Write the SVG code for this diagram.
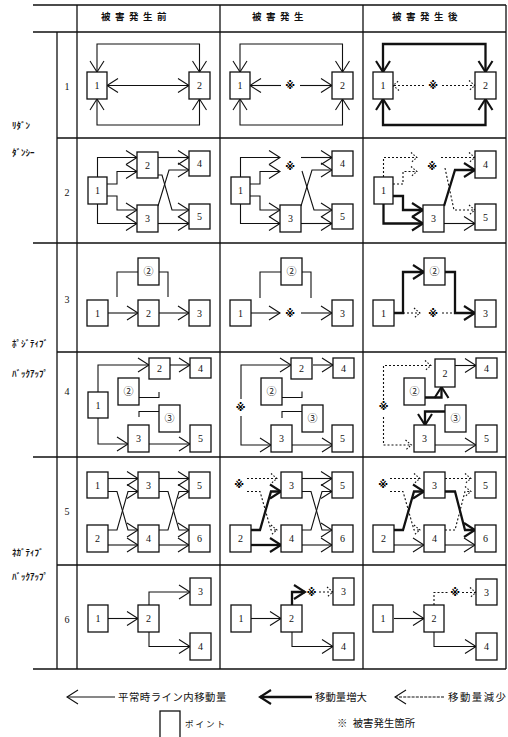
<svg xmlns="http://www.w3.org/2000/svg" width="508" height="737" viewBox="0 0 508 737">
<style>
.g{fill:none;stroke:#111;stroke-width:1.3}
.b{fill:#fff;stroke:#111;stroke-width:1.3}
.l{font-family:"Liberation Serif",serif;font-size:10px;text-anchor:middle;fill:#111}
.c{font-family:"Noto Sans CJK JP",sans-serif;font-size:10px;text-anchor:middle;fill:#111}
.x{font-family:"DejaVu Sans","Noto Sans CJK JP",sans-serif;font-size:10px;font-weight:bold;text-anchor:middle;fill:#000}
.h{font-family:"Noto Sans CJK JP",sans-serif;font-size:9.5px;font-weight:bold;letter-spacing:4.5px;fill:#111}
.k{font-family:"Noto Sans CJK JP",sans-serif;font-size:9px;font-weight:bold;fill:#111}
.p{font-family:"Noto Sans CJK JP",sans-serif;font-size:8.5px;letter-spacing:2px;fill:#111}
.j{font-family:"Noto Sans CJK JP",sans-serif;font-size:10.4px;fill:#111}
.n{fill:none;stroke:#111;stroke-width:1.1}
.t{fill:none;stroke:#111;stroke-width:2.3}
.d{fill:none;stroke:#111;stroke-width:1.1;stroke-dasharray:2 2}
</style>
<defs>
<marker id="a" markerUnits="userSpaceOnUse" markerWidth="14" markerHeight="16" refX="11" refY="7" orient="auto-start-reverse" overflow="visible"><path d="M0,0L11,7L0,14" fill="none" stroke="#111" stroke-width="1.1"/></marker>
<marker id="at" markerUnits="userSpaceOnUse" markerWidth="14" markerHeight="16" refX="11" refY="7" orient="auto-start-reverse" overflow="visible"><path d="M0,0L11,7L0,14" fill="none" stroke="#111" stroke-width="2.1"/></marker>
<marker id="ad" markerUnits="userSpaceOnUse" markerWidth="8" markerHeight="12" refX="6" refY="5" orient="auto-start-reverse" overflow="visible"><path d="M0,0L6,5L0,10" fill="none" stroke="#111" stroke-width="1.1" stroke-dasharray="1.6 1.6"/></marker>
</defs>
<rect width="508" height="737" fill="#fff"/>

<g id="table">
<path class="g" d="M33,5H506M33,32H506M57,138H506M33,243H506M57,352H506M33,457H506M57,565H506M33,669H506"/>
<path class="g" d="M57,32V669M77,5V669M220,5V669M363,5V669M506,5V669"/>
<text class="h" x="101" y="20">被害発生前</text>
<text class="h" x="252" y="20">被害発生</text>
<text class="h" x="392" y="20">被害発生後</text>
<text class="l" x="67" y="90">1</text>
<text class="l" x="67" y="196">2</text>
<text class="l" x="67" y="303">3</text>
<text class="l" x="67" y="395">4</text>
<text class="l" x="67" y="515">5</text>
<text class="l" x="67" y="623">6</text>
<text class="k" x="12" y="129">ﾘﾀﾞﾝ</text>
<text class="k" x="12" y="156">ﾀﾞﾝｼｰ</text>
<text class="k" x="12" y="347">ﾎﾟｼﾞﾃｨﾌﾞ</text>
<text class="k" x="12" y="377">ﾊﾞｯｸｱｯﾌﾟ</text>
<text class="k" x="12" y="556">ﾈｶﾞﾃｨﾌﾞ</text>
<text class="k" x="12" y="580">ﾊﾞｯｸｱｯﾌﾟ</text>
</g>

<g id="connectors">
<g id="conn-c1">
<path class="n" d="M97,72V44H199.5V72" marker-start="url(#a)" marker-end="url(#a)"/>
<path class="n" d="M107,85.5H189" marker-start="url(#a)" marker-end="url(#a)"/>
<path class="n" d="M97,99V125H199.5V99" marker-start="url(#a)" marker-end="url(#a)"/>

<path class="n" d="M97.5,177V157.5H137" marker-end="url(#a)"/>
<path class="n" d="M107,184H117V171.5H137" marker-end="url(#a)"/>
<path class="n" d="M107,196H117V210H137" marker-end="url(#a)"/>
<path class="n" d="M97.5,204V223.5H137" marker-end="url(#a)"/>
<path class="n" d="M158,157.5H189" marker-end="url(#a)"/>
<path class="n" d="M158,175H162L172,210H189" marker-end="url(#a)"/>
<path class="n" d="M158,206L169,170H189" marker-end="url(#a)"/>
<path class="n" d="M158,223.5H189" marker-end="url(#a)"/>

<path class="n" d="M108,313H138" marker-end="url(#a)"/>
<path class="n" d="M159,313H189" marker-end="url(#a)"/>
<path class="n" d="M117,297V272H138"/>
<path class="n" d="M159,272H168V297"/>

<path class="n" d="M98,392V365H149" marker-end="url(#a)"/>
<path class="n" d="M98,418V444H128" marker-end="url(#a)"/>
<path class="n" d="M170,365H190" marker-end="url(#a)"/>
<path class="n" d="M149,444H190" marker-end="url(#a)"/>
<path class="n" d="M139,397.5H159V392"/>
<path class="n" d="M159,411.5H139V417"/>

<path class="n" d="M108,478.5H138" marker-end="url(#a)"/>
<path class="n" d="M108,491.5H117L128,530H138" marker-end="url(#a)"/>
<path class="n" d="M108,530H117L128,491.5H138" marker-end="url(#a)"/>
<path class="n" d="M108,545H138" marker-end="url(#a)"/>
<path class="n" d="M159,478.5H189" marker-end="url(#a)"/>
<path class="n" d="M159,491.5H168L179,530H189" marker-end="url(#a)"/>
<path class="n" d="M159,530H168L179,491.5H189" marker-end="url(#a)"/>
<path class="n" d="M159,545H189" marker-end="url(#a)"/>

<path class="n" d="M108,618.5H138" marker-end="url(#a)"/>
<path class="n" d="M149,605V592H190" marker-end="url(#a)"/>
<path class="n" d="M149,632V646.5H190" marker-end="url(#a)"/>
</g>
<g id="conn-c2" transform="translate(143,0)">
<path class="n" d="M97,72V44H199.5V72" marker-start="url(#a)" marker-end="url(#a)"/>
<path class="n" d="M138,85.5H107" marker-end="url(#a)"/>
<path class="n" d="M157,85.5H189" marker-end="url(#a)"/>
<path class="n" d="M97,99V125H199.5V99" marker-start="url(#a)" marker-end="url(#a)"/>

<path class="n" d="M97.5,177V157.5H137" marker-end="url(#a)"/>
<path class="n" d="M107,184H117V171.5H137" marker-end="url(#a)"/>
<path class="n" d="M107,196H117V210H137" marker-end="url(#a)"/>
<path class="n" d="M97.5,204V223.5H137" marker-end="url(#a)"/>
<path class="n" d="M158,157.5H189" marker-end="url(#a)"/>
<path class="n" d="M159,171L171,210H189" marker-end="url(#a)"/>
<path class="n" d="M158,206L169,170H189" marker-end="url(#a)"/>
<path class="n" d="M158,223.5H189" marker-end="url(#a)"/>

<path class="n" d="M108,313H137" marker-end="url(#a)"/>
<path class="n" d="M158,313H189" marker-end="url(#a)"/>
<path class="n" d="M117,298V272H138"/>
<path class="n" d="M159,272H168V298"/>

<path class="n" d="M98,399V365H148" marker-end="url(#a)"/>
<path class="n" d="M98,416V445H128" marker-end="url(#a)"/>
<path class="n" d="M170,365H190" marker-end="url(#a)"/>
<path class="n" d="M149,445H190" marker-end="url(#a)"/>
<path class="n" d="M139,397.5H159V391.5"/>
<path class="n" d="M159,411.5H139V418"/>

<path class="d" d="M104,478.5H134" marker-end="url(#ad)"/>
<path class="d" d="M104,491.5H117L128,530H134" marker-end="url(#ad)"/>
<path class="t" d="M108,530H117L128,491.5H138" marker-end="url(#at)"/>
<path class="t" d="M108,545H138" marker-end="url(#at)"/>
<path class="n" d="M159,478.5H189" marker-end="url(#a)"/>
<path class="n" d="M159,491.5H168L179,530H189" marker-end="url(#a)"/>
<path class="n" d="M159,530H168L179,491.5H189" marker-end="url(#a)"/>
<path class="n" d="M159,545H189" marker-end="url(#a)"/>

<path class="n" d="M108,618.5H138" marker-end="url(#a)"/>
<path class="t" d="M149,605V592H162" marker-end="url(#at)"/>
<path class="d" d="M176,592H190" marker-end="url(#ad)"/>
<path class="n" d="M149,632V646.5H190" marker-end="url(#a)"/>
</g>
<g id="conn-c3" transform="translate(286,0)">
<path class="t" d="M97,72V44H199.5V72" marker-start="url(#at)" marker-end="url(#at)"/>
<path class="d" d="M138,85.5H107" marker-end="url(#ad)"/>
<path class="d" d="M156,85.5H189" marker-end="url(#ad)"/>
<path class="t" d="M97,99V125H199.5V99" marker-start="url(#at)" marker-end="url(#at)"/>

<path class="d" d="M97.5,177V157.5H131" marker-end="url(#ad)"/>
<path class="d" d="M107,184H117V171.5H131" marker-end="url(#ad)"/>
<path class="t" d="M107,196H117V210H137" marker-end="url(#at)"/>
<path class="t" d="M97.5,204V223.5H137" marker-end="url(#at)"/>
<path class="d" d="M155,157.5H189" marker-end="url(#ad)"/>
<path class="t" d="M158,206L169,170H189" marker-end="url(#at)"/>
<path class="d" d="M159,168L168,210H189" marker-end="url(#ad)"/>
<path class="n" d="M158,223.5H189" marker-end="url(#a)"/>

<path class="t" d="M108,313H117V272H138" marker-end="url(#at)"/>
<path class="t" d="M159,272H169V313H189" marker-end="url(#at)"/>
<path class="d" d="M117,313H134" marker-end="url(#ad)"/>
<path class="d" d="M156,313H169"/>

<path class="d" d="M97.5,400V365.5H145" marker-end="url(#ad)"/>
<path class="d" d="M97.5,417V445H125.5" marker-end="url(#ad)"/>
<path class="t" d="M139,397.5H155.5V387" marker-end="url(#at)"/>
<path class="t" d="M159,411.5H139V425" marker-end="url(#at)"/>
<path class="n" d="M169,365.5H190" marker-end="url(#a)"/>
<path class="n" d="M149,445H190" marker-end="url(#a)"/>

<path class="d" d="M104,478.5H134" marker-end="url(#ad)"/>
<path class="d" d="M104,491.5H117L128,530H134" marker-end="url(#ad)"/>
<path class="t" d="M108,530H117L128,491.5H138" marker-end="url(#at)"/>
<path class="n" d="M108,545H138" marker-end="url(#a)"/>
<path class="d" d="M159,478.5H185" marker-end="url(#ad)"/>
<path class="t" d="M159,491.5H169L179,530H189" marker-end="url(#at)"/>
<path class="d" d="M159,530H169L179,491.5H185" marker-end="url(#ad)"/>
<path class="n" d="M159,545H189" marker-end="url(#a)"/>

<path class="n" d="M108,618.5H138" marker-end="url(#a)"/>
<path class="d" d="M148,605V592.5H162"/>
<path class="d" d="M176,592.5H190" marker-end="url(#ad)"/>
<path class="n" d="M148,632V646.5H190" marker-end="url(#a)"/>
</g>
<path class="n" d="M115,697H67" marker-end="url(#a)"/>
<path class="t" d="M312,697H260" marker-end="url(#at)"/>
<path class="n" d="M444,697H395" stroke-dasharray="3 1.2" marker-end="url(#a)"/>
</g>

<g id="r1c1-1"><rect class="b" x="87" y="72" width="20" height="27"/><text class="l" x="97" y="89">1</text></g>
<g id="r1c1-2"><rect class="b" x="189" y="72" width="21" height="27"/><text class="l" x="199.5" y="89">2</text></g>
<g id="r2c1-1"><rect class="b" x="88" y="177" width="19" height="27"/><text class="l" x="97.5" y="194">1</text></g>
<g id="r2c1-2"><rect class="b" x="137" y="152" width="21" height="26"/><text class="l" x="147.5" y="168.5">2</text></g>
<g id="r2c1-3"><rect class="b" x="137" y="205" width="21" height="27"/><text class="l" x="147.5" y="222">3</text></g>
<g id="r2c1-4"><rect class="b" x="189" y="151" width="21" height="25"/><text class="l" x="199.5" y="167">4</text></g>
<g id="r2c1-5"><rect class="b" x="189" y="204" width="21" height="25"/><text class="l" x="199.5" y="220">5</text></g>
<g id="r3c1-1"><rect class="b" x="87" y="300" width="21" height="26"/><text class="l" x="97.5" y="316.5">1</text></g>
<g id="r3c1-2"><rect class="b" x="138" y="300" width="21" height="26"/><text class="l" x="148.5" y="316.5">2</text></g>
<g id="r3c1-3"><rect class="b" x="189" y="300" width="21" height="26"/><text class="l" x="199.5" y="316.5">3</text></g>
<g id="r3c1-s2"><rect class="b" x="138" y="258" width="21" height="27"/><text class="c" x="148.5" y="275">②</text></g>
<g id="r4c1-1"><rect class="b" x="88" y="392" width="20" height="26"/><text class="l" x="98" y="408.5">1</text></g>
<g id="r4c1-2"><rect class="b" x="149" y="358" width="21" height="21"/><text class="l" x="159.5" y="372">2</text></g>
<g id="r4c1-4"><rect class="b" x="190" y="358" width="21" height="20"/><text class="l" x="200.5" y="371.5">4</text></g>
<g id="r4c1-s2"><rect class="b" x="118" y="378" width="21" height="27"/><text class="c" x="128.5" y="395">②</text></g>
<g id="r4c1-s3"><rect class="b" x="159" y="405" width="21" height="27"/><text class="c" x="169.5" y="422">③</text></g>
<g id="r4c1-3"><rect class="b" x="128" y="425" width="21" height="27"/><text class="l" x="138.5" y="442">3</text></g>
<g id="r4c1-5"><rect class="b" x="190" y="425" width="21" height="27"/><text class="l" x="200.5" y="442">5</text></g>
<g id="r5c1-1"><rect class="b" x="87" y="472" width="21" height="26"/><text class="l" x="97.5" y="488.5">1</text></g>
<g id="r5c1-3"><rect class="b" x="138" y="472" width="21" height="26"/><text class="l" x="148.5" y="488.5">3</text></g>
<g id="r5c1-5"><rect class="b" x="189" y="472" width="21" height="26"/><text class="l" x="199.5" y="488.5">5</text></g>
<g id="r5c1-2"><rect class="b" x="87" y="525" width="21" height="27"/><text class="l" x="97.5" y="542">2</text></g>
<g id="r5c1-4"><rect class="b" x="138" y="525" width="21" height="27"/><text class="l" x="148.5" y="542">4</text></g>
<g id="r5c1-6"><rect class="b" x="189" y="525" width="21" height="27"/><text class="l" x="199.5" y="542">6</text></g>
<g id="r6c1-1"><rect class="b" x="88" y="605" width="20" height="27"/><text class="l" x="98" y="622">1</text></g>
<g id="r6c1-2"><rect class="b" x="138" y="605" width="21" height="27"/><text class="l" x="148.5" y="622">2</text></g>
<g id="r6c1-3"><rect class="b" x="190" y="578" width="21" height="27"/><text class="l" x="200.5" y="595">3</text></g>
<g id="r6c1-4"><rect class="b" x="190" y="633" width="21" height="27"/><text class="l" x="200.5" y="650">4</text></g>

<g transform="translate(143,0)">
<g id="r1c2-1"><rect class="b" x="87" y="72" width="20" height="27"/><text class="l" x="97" y="89">1</text></g>
<g id="r1c2-2"><rect class="b" x="189" y="72" width="21" height="27"/><text class="l" x="199.5" y="89">2</text></g>
<g id="r1c2-x"><text class="x" x="147" y="89">※</text></g>
<g id="r2c2-1"><rect class="b" x="88" y="177" width="19" height="27"/><text class="l" x="97.5" y="194">1</text></g>
<g id="r2c2-x"><text class="x" x="147" y="170">※</text></g>
<g id="r2c2-3"><rect class="b" x="137" y="205" width="21" height="27"/><text class="l" x="147.5" y="222">3</text></g>
<g id="r2c2-4"><rect class="b" x="189" y="151" width="21" height="25"/><text class="l" x="199.5" y="167">4</text></g>
<g id="r2c2-5"><rect class="b" x="189" y="204" width="21" height="25"/><text class="l" x="199.5" y="220">5</text></g>
<g id="r3c2-1"><rect class="b" x="87" y="300" width="21" height="26"/><text class="l" x="97.5" y="316.5">1</text></g>
<g id="r3c2-x"><text class="x" x="147" y="316.5">※</text></g>
<g id="r3c2-3"><rect class="b" x="189" y="300" width="21" height="26"/><text class="l" x="199.5" y="316.5">3</text></g>
<g id="r3c2-s2"><rect class="b" x="138" y="258" width="21" height="27"/><text class="c" x="148.5" y="275">②</text></g>
<g id="r4c2-x"><text class="x" x="97.5" y="411">※</text></g>
<g id="r4c2-2"><rect class="b" x="148" y="358" width="21" height="21"/><text class="l" x="158.5" y="372">2</text></g>
<g id="r4c2-4"><rect class="b" x="190" y="358" width="21" height="20"/><text class="l" x="200.5" y="371.5">4</text></g>
<g id="r4c2-s2"><rect class="b" x="118" y="378" width="21" height="27"/><text class="c" x="128.5" y="395">②</text></g>
<g id="r4c2-s3"><rect class="b" x="159" y="405" width="21" height="27"/><text class="c" x="169.5" y="422">③</text></g>
<g id="r4c2-3"><rect class="b" x="128" y="425" width="21" height="27"/><text class="l" x="138.5" y="442">3</text></g>
<g id="r4c2-5"><rect class="b" x="189" y="425" width="21" height="27"/><text class="l" x="199.5" y="442">5</text></g>
<g id="r5c2-x"><text class="x" x="96" y="488">※</text></g>
<g id="r5c2-3"><rect class="b" x="138" y="472" width="21" height="26"/><text class="l" x="148.5" y="488.5">3</text></g>
<g id="r5c2-5"><rect class="b" x="189" y="472" width="21" height="26"/><text class="l" x="199.5" y="488.5">5</text></g>
<g id="r5c2-2"><rect class="b" x="87" y="525" width="21" height="27"/><text class="l" x="97.5" y="542">2</text></g>
<g id="r5c2-4"><rect class="b" x="138" y="525" width="21" height="27"/><text class="l" x="148.5" y="542">4</text></g>
<g id="r5c2-6"><rect class="b" x="189" y="525" width="21" height="27"/><text class="l" x="199.5" y="542">6</text></g>
<g id="r6c2-1"><rect class="b" x="88" y="605" width="20" height="27"/><text class="l" x="98" y="622">1</text></g>
<g id="r6c2-2"><rect class="b" x="138" y="605" width="21" height="27"/><text class="l" x="148.5" y="622">2</text></g>
<g id="r6c2-x"><text class="x" x="168.5" y="595.5">※</text></g>
<g id="r6c2-3"><rect class="b" x="190" y="578" width="21" height="27"/><text class="l" x="200.5" y="595">3</text></g>
<g id="r6c2-4"><rect class="b" x="190" y="633" width="21" height="27"/><text class="l" x="200.5" y="650">4</text></g>
</g>

<g transform="translate(286,0)">
<g id="r1c3-1"><rect class="b" x="87" y="72" width="20" height="27"/><text class="l" x="97" y="89">1</text></g>
<g id="r1c3-2"><rect class="b" x="189" y="72" width="21" height="27"/><text class="l" x="199.5" y="89">2</text></g>
<g id="r1c3-x"><text class="x" x="147" y="89">※</text></g>
<g id="r2c3-1"><rect class="b" x="88" y="177" width="19" height="27"/><text class="l" x="97.5" y="194">1</text></g>
<g id="r2c3-x"><text class="x" x="146" y="169.5">※</text></g>
<g id="r2c3-3"><rect class="b" x="137" y="205" width="21" height="27"/><text class="l" x="147.5" y="222">3</text></g>
<g id="r2c3-4"><rect class="b" x="189" y="151" width="21" height="27"/><text class="l" x="199.5" y="168">4</text></g>
<g id="r2c3-5"><rect class="b" x="189" y="204" width="21" height="26"/><text class="l" x="199.5" y="220.5">5</text></g>
<g id="r3c3-1"><rect class="b" x="87" y="300" width="21" height="26"/><text class="l" x="97.5" y="316.5">1</text></g>
<g id="r3c3-x"><text class="x" x="147" y="317">※</text></g>
<g id="r3c3-3"><rect class="b" x="189" y="300" width="21" height="27"/><text class="l" x="199.5" y="317">3</text></g>
<g id="r3c3-s2"><rect class="b" x="138" y="258" width="21" height="27"/><text class="c" x="148.5" y="275">②</text></g>
<g id="r4c3-x"><text class="x" x="97.5" y="410">※</text></g>
<g id="r4c3-2"><rect class="b" x="149" y="359" width="20" height="28"/><text class="l" x="159" y="376.5">2</text></g>
<g id="r4c3-4"><rect class="b" x="190" y="358" width="21" height="20"/><text class="l" x="200.5" y="371.5">4</text></g>
<g id="r4c3-s2"><rect class="b" x="118" y="378" width="21" height="27"/><text class="c" x="128.5" y="395">②</text></g>
<g id="r4c3-s3"><rect class="b" x="159" y="405" width="21" height="27"/><text class="c" x="169.5" y="422">③</text></g>
<g id="r4c3-3"><rect class="b" x="128" y="425" width="21" height="27"/><text class="l" x="138.5" y="442">3</text></g>
<g id="r4c3-5"><rect class="b" x="190" y="425" width="21" height="27"/><text class="l" x="200.5" y="442">5</text></g>
<g id="r5c3-x"><text class="x" x="97" y="488">※</text></g>
<g id="r5c3-3"><rect class="b" x="138" y="472" width="21" height="26"/><text class="l" x="148.5" y="488.5">3</text></g>
<g id="r5c3-5"><rect class="b" x="189" y="472" width="21" height="26"/><text class="l" x="199.5" y="488.5">5</text></g>
<g id="r5c3-2"><rect class="b" x="87" y="525" width="21" height="27"/><text class="l" x="97.5" y="542">2</text></g>
<g id="r5c3-4"><rect class="b" x="138" y="525" width="21" height="27"/><text class="l" x="148.5" y="542">4</text></g>
<g id="r5c3-6"><rect class="b" x="189" y="525" width="21" height="27"/><text class="l" x="199.5" y="542">6</text></g>
<g id="r6c3-1"><rect class="b" x="87" y="605" width="20" height="27"/><text class="l" x="97" y="622">1</text></g>
<g id="r6c3-2"><rect class="b" x="138" y="605" width="20" height="27"/><text class="l" x="148" y="622">2</text></g>
<g id="r6c3-x"><text class="x" x="169" y="595.5">※</text></g>
<g id="r6c3-3"><rect class="b" x="190" y="579" width="21" height="26"/><text class="l" x="200.5" y="595.5">3</text></g>
<g id="r6c3-4"><rect class="b" x="190" y="633" width="21" height="27"/><text class="l" x="200.5" y="650">4</text></g>
</g>

<g id="legend">
<text class="j" x="118" y="701" letter-spacing="0.5">平常時ライン内移動量</text>
<text class="j" x="315" y="701">移動量増大</text>
<text class="j" x="448" y="701" letter-spacing="1.5">移動量減少</text>
<g id="legend-point"><rect class="b" x="160" y="711" width="20" height="32"/></g>
<text class="p" x="185" y="726.5">ポイント</text>
<text class="j" x="337" y="727" font-size="10px">※ <tspan dx="3">被害発生箇所</tspan></text>
</g>
</svg>
